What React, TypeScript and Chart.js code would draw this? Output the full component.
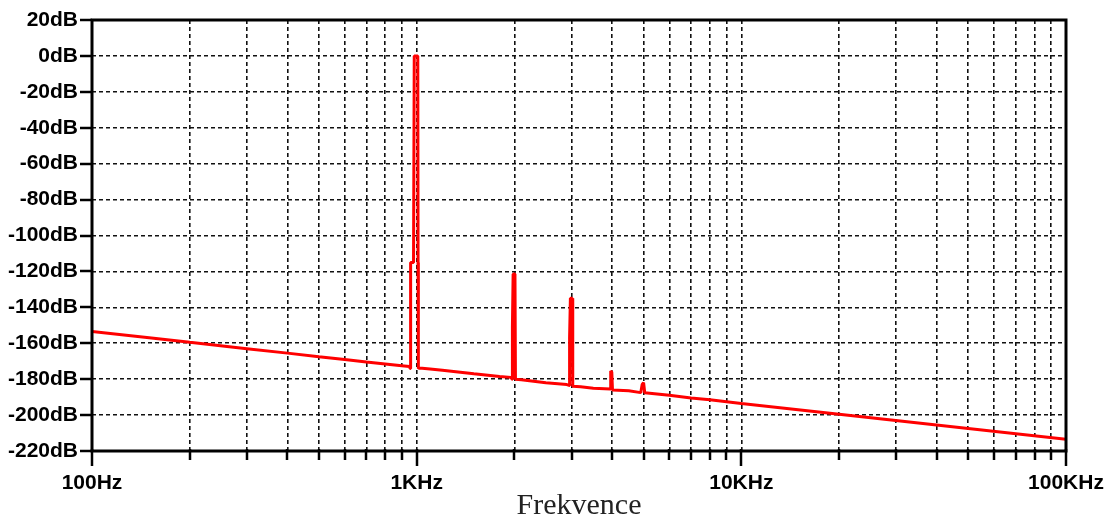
import React, { useEffect, useRef } from 'react';
import { Chart, registerables } from 'chart.js';

Chart.register(...registerables);

// Frequencies (Hz) of the traced points of the spectrum
const freqHz = [
  100, 150, 200, 300, 400, 500, 600, 700, 800, 900, 950, 955,
  958, 978, 983, 1008, 1010, 1012, 1020, 1100, 1200, 1500, 1800, 1950,
  1968, 1972, 1982, 2008, 2015, 2100, 2500, 2900, 2950,
  2958, 2975, 3015, 3025, 3200, 3500, 3950,
  3960, 3990, 4010, 4500, 4900, 4950, 5000, 5040,
  6000, 7000, 8000, 10000, 20000, 50000, 100000,
];
// Level (dB) at each of those frequencies
const levelDb = [
  -153.5, -157, -159.5, -163, -165.5, -167.5, -169, -170.5, -171.5, -172.5, -173, -174,
  -115, -115, 0, 0, -115, -174, -173.8, -174.3, -175, -177, -178.5, -179,
  -180, -151, -121.5, -121.5, -180, -180.3, -182, -183, -183.5,
  -157, -135, -135, -184, -184.2, -185, -185.5,
  -175.5, -176, -186, -186.5, -187.5, -183, -182, -187.5,
  -189, -190.5, -191.5, -193.5, -199.5, -207.5, -213.5,
];

const yMin = -220;
const yMax = 20;
const yStep = 20;
const xMin = 100;
const xMax = 100000;
const xMajorValues = [100, 1000, 10000, 100000];
const xMajorText = ['100Hz', '1KHz', '10KHz', '100KHz'];
const yUnit = 'dB';
const xTitle = 'Frekvence';

// gridline positions of the log axis: 1..9 x each decade
const xTickValues: number[] = [];
for (let d = 100; d < xMax; d *= 10) {
  for (let m = 1; m <= 9; m++) xTickValues.push(d * m);
}
xTickValues.push(xMax);

const framePlugin = {
  id: 'frameTicks',
  afterDraw(chart: any) {
    const { ctx, chartArea } = chart;
    const { left, right, top, bottom } = chartArea;
    const xs = chart.scales.x;
    const ys = chart.scales.y;
    ctx.save();
    ctx.setLineDash([]);
    ctx.strokeStyle = '#000';
    ctx.lineWidth = 2.5;
    xs.ticks.forEach((t: any) => {
      const px = Math.round(xs.getPixelForValue(t.value));
      const major = xMajorValues.includes(t.value);
      ctx.beginPath();
      ctx.moveTo(px, bottom - 2);
      ctx.lineTo(px, bottom + (major ? 15 : 9));
      ctx.stroke();
    });
    ys.ticks.forEach((t: any) => {
      const py = Math.round(ys.getPixelForValue(t.value));
      ctx.beginPath();
      ctx.moveTo(left - 12, py);
      ctx.lineTo(left, py);
      ctx.stroke();
    });
    ctx.lineWidth = 3;
    ctx.strokeRect(left, top, right - left, bottom - top);
    ctx.font = '30px "Liberation Serif", serif';
    ctx.fillStyle = '#222';
    ctx.textAlign = 'center';
    ctx.textBaseline = 'alphabetic';
    ctx.fillText(xTitle, (left + right) / 2, 514);
    ctx.restore();
  },
};

const zeroPad = (scale: any) => {
  scale.paddingTop = 0;
  scale.paddingBottom = 0;
  scale.paddingLeft = 0;
  scale.paddingRight = 0;
};

export default function App() {
  const canvasRef = useRef<HTMLCanvasElement | null>(null);

  useEffect(() => {
    document.body.style.margin = '0';
    const canvas = canvasRef.current;
    if (!canvas) return;
    const points = freqHz.map((f, i) => ({ x: f, y: levelDb[i] }));
    const labelFont = { family: '"Liberation Sans", Arial, sans-serif', size: 21, weight: 'bold' as const };
    const chart = new Chart(canvas, {
      type: 'scatter',
      data: {
        datasets: [
          {
            data: points,
            showLine: true,
            borderColor: '#ff0000',
            backgroundColor: '#ff0000',
            borderWidth: 3,
            pointRadius: 0,
            tension: 0,
            borderJoinStyle: 'bevel',
          },
        ],
      },
      options: {
        animation: false,
        responsive: false,
        devicePixelRatio: 1,
        layout: { padding: { top: 20, right: 49, left: 0, bottom: 0 } },
        plugins: { legend: { display: false }, tooltip: { enabled: false } },
        scales: {
          x: {
            type: 'logarithmic',
            min: xMin,
            max: xMax,
            afterBuildTicks: (scale: any) => {
              scale.ticks = xTickValues.map((v) => ({ value: v }));
            },
            afterFit: (scale: any) => {
              scale.height = 66;
              zeroPad(scale);
            },
            ticks: {
              autoSkip: false,
              maxRotation: 0,
              minRotation: 0,
              padding: 20,
              color: '#000',
              font: labelFont,
              callback: (value: any) => {
                const idx = xMajorValues.indexOf(Number(value));
                return idx >= 0 ? xMajorText[idx] : '';
              },
            },
            grid: {
              color: '#111',
              lineWidth: 1.6,
              drawTicks: false,
            },
            border: { display: false, dash: [4, 3] },
          },
          y: {
            type: 'linear',
            min: yMin,
            max: yMax,
            afterFit: (scale: any) => {
              scale.width = 92;
              zeroPad(scale);
            },
            ticks: {
              stepSize: yStep,
              padding: 14,
              color: '#000',
              font: labelFont,
              callback: (value: any) => `${value}${yUnit}`,
            },
            grid: {
              color: '#111',
              lineWidth: 1.6,
              drawTicks: false,
            },
            border: { display: false, dash: [4, 3] },
          },
        },
      },
      plugins: [framePlugin],
    });
    return () => chart.destroy();
  }, []);

  return (
    <div style={{ position: 'absolute', left: 0, top: 0, width: 1115, height: 517, background: '#fff' }}>
      <canvas ref={canvasRef} width={1115} height={517} />
    </div>
  );
}
